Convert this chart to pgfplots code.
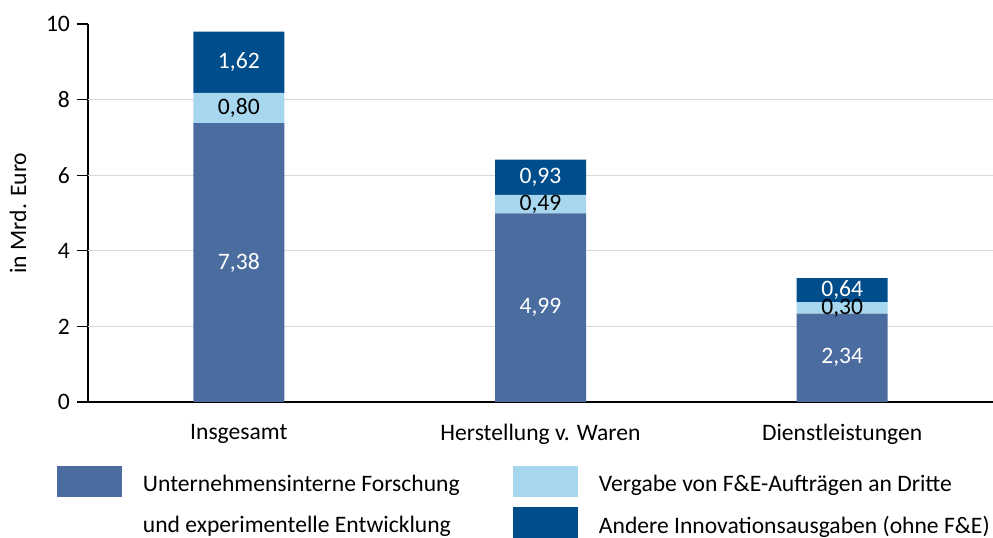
\documentclass[border=0pt]{standalone}
\usepackage{pgfplots}
\pgfplotsset{compat=1.18}
\usepackage{fontspec}
\setmainfont{Carlito}

\definecolor{fue}{HTML}{4A6C9F}
\definecolor{vergabe}{HTML}{A6D7EE}
\definecolor{andere}{HTML}{004D8B}

\newcommand{\chartfont}{\fontsize{11.8}{14}\selectfont}

\pgfplotsset{
  base/.style={
    scale only axis, width=452.5pt, height=189pt,
    xmin=-0.5, xmax=2.5, ymin=0, ymax=10,
    font=\chartfont,
  },
}

\begin{document}
\begin{tikzpicture}
  \begin{axis}[base,
      ybar stacked, bar width=45.5pt,
      axis x line=bottom, axis y line=left,
      axis line style={-, black, line width=0.6pt},
      xtick={0,1,2},
      xticklabels={Insgesamt, Herstellung v. Waren, Dienstleistungen},
      x tick style={draw=none},
      xticklabel style={yshift=-2pt},
      ytick={0,2,...,10},
      tick align=outside, major tick length=5.5pt,
      y tick style={black, line width=0.6pt},
      extra y ticks={2,4,6,8}, extra y tick labels={},
      extra y tick style={grid=major, major tick length=0pt},
      grid style={black!15, line width=0.5pt},
      ylabel={in Mrd. Euro},
      every axis y label/.style={at={(axis description cs:-0.0773,0.5)}, rotate=90, anchor=center},
      /pgf/number format/assume math mode=true,
      legend columns=2, legend cell align=left,
      legend style={
          at={(axis description cs:-0.0343,-0.1693)}, anchor=north west,
          draw=none, fill=none, inner sep=0pt, outer sep=0pt,
          nodes={inner sep=0pt},
          /tikz/column sep=0pt,
          /tikz/every odd column/.style={column sep=10.5pt},
          /tikz/row sep=5pt,
          font=\chartfont,
      },
  ]

  % Unternehmensinterne F&E
  \addplot[fill=fue, draw=none,
    legend image code/.code={\fill[fue] (0pt,-6pt) rectangle (32.5pt,9.5pt);}]
    coordinates {(0,7.38) (1,4.99) (2,2.34)};
  \addlegendentry{\makebox[185pt][l]{Unternehmensinterne Forschung}}

  % Vergabe an Dritte
  \addplot[fill=vergabe, draw=none,
    legend image code/.code={\fill[vergabe] (0pt,-6pt) rectangle (32.5pt,9.5pt);}]
    coordinates {(0,0.80) (1,0.49) (2,0.30)};
  \addlegendentry{Vergabe von F\&E-Aufträgen an Dritte}

  \addlegendimage{empty legend}
  \addlegendentry{\makebox[185pt][l]{und experimentelle Entwicklung}}

  % Andere Innovationsausgaben
  \addplot[fill=andere, draw=none,
    legend image code/.code={\fill[andere] (0pt,-6pt) rectangle (32.5pt,9.5pt);}]
    coordinates {(0,1.62) (1,0.93) (2,0.64)};
  \addlegendentry{Andere Innovationsausgaben (ohne F\&E)}
  \end{axis}

  % value labels, centred in each segment
  \begin{axis}[base, hide axis]
  \addplot[draw=none, mark=none, nodes near coords, point meta=explicit symbolic,
    every node near coord/.append style={anchor=center, text=white, font=\chartfont}]
    table[meta=label] {
      x y label
      0 3.69 7,38
      0 8.99 1,62
      1 2.495 4,99
      1 5.945 0,93
      2 1.17 2,34
      2 2.96 0,64
    };
  \addplot[draw=none, mark=none, nodes near coords, point meta=explicit symbolic,
    every node near coord/.append style={anchor=center, text=black, font=\chartfont}]
    table[meta=label] {
      x y label
      0 7.78 0,80
      1 5.235 0,49
      2 2.49 0,30
    };
  \end{axis}

  \pgfresetboundingbox
  \path ([shift={(-44pt,-68pt)}]current axis.south west) rectangle ([shift={(0pt,12pt)}]current axis.north east);
\end{tikzpicture}
\end{document}
